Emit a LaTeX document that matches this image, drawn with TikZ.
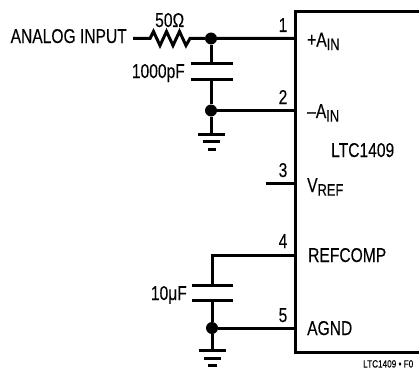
\documentclass[tikz,border=0pt]{standalone}
\usepackage{fontspec}
\setmainfont[FakeStretch=0.78,FakeBold=0.15]{Liberation Sans}
\tikzset{
  x=1pt,y=-1pt,
  wire/.style={line width=3pt,line cap=butt,line join=miter,black},
  lbl/.style={font=\fontsize{20}{22}\selectfont,inner sep=0pt,text=black},
  pin/.style={font=\fontsize{20}{22}\selectfont,inner sep=0pt,text=black},
  dotn/.style={circle,fill=black,inner sep=0pt,minimum size=12pt},
}
\newcommand{\sbs}[1]{\raisebox{-3.6pt}{\fontsize{16.5}{18}\selectfont #1}}
\begin{document}
\begin{tikzpicture}
\useasboundingbox (0,0) rectangle (419,369);
% IC body
\coordinate (tl) at (295.5,12);
\coordinate (bl) at (295.5,352);
\coordinate (tr) at (420,12);
\coordinate (br) at (420,352);
\draw[wire] (tr) -- (tl) -- (bl) -- (br);
% pin coordinates
\coordinate (p1) at (295.5,38.5);
\coordinate (p2) at (295.5,110.5);
\coordinate (p3) at (295.5,183);
\coordinate (p3e) at (266,183);
\coordinate (p4) at (295.5,255.5);
\coordinate (p4c) at (212,255.5);
\coordinate (p5) at (295.5,328);
\coordinate (rs) at (133,38.5);
\coordinate (r1) at (150,38.5);
\coordinate (r2) at (190,38.5);
\node[dotn] (j1) at (211,38.5) {};
\node[dotn] (j2) at (211,110.5) {};
\node[dotn] (j5) at (212,328) {};
% top
\draw[wire] (rs) -- (r1) -- ++(3.5,-7) -- ++(6.5,14) -- ++(6.5,-14) -- ++(6.5,14) -- ++(6.5,-14) -- ++(6.5,14) -- (r2) -- (j1) -- (p1);
\draw[wire] (j1) -- (211,63);
\draw[wire] (191,63) -- (233,63);
\draw[wire] (191,79) -- (233,79);
\draw[wire] (211,79) -- (j2);
\draw[wire] (j2) -- (p2);
\draw[wire] (j2) -- (211,134);
\draw[wire] (198,134) -- (225,134);
\draw[wire] (203,141.5) -- (220,141.5);
\draw[wire] (207.5,149) -- (215.5,149);
% pin 3
\draw[wire] (p3e) -- (p3);
% bottom
\draw[wire] (p4) -- (p4c) -- (212,285);
\draw[wire] (192,285) -- (233,285);
\draw[wire] (192,300) -- (233,300);
\draw[wire] (212,300) -- (j5);
\draw[wire] (j5) -- (p5);
\draw[wire] (j5) -- (212,350);
\draw[wire] (199,350) -- (226,350);
\draw[wire] (204,358) -- (221,358);
\draw[wire] (208,365.5) -- (217,365.5);
% labels
\node[lbl,anchor=base east] (tin) at (127,43) {ANALOG INPUT};
\node[lbl,anchor=base west] (tr1) at (155,27) {50Ω};
\node[lbl,anchor=base east] (tc1) at (185,78) {1000pF};
\node[lbl,anchor=base east] (tc2) at (187,300) {10μF};
\node[pin,anchor=base] (n1) at (283,32) {1};
\node[pin,anchor=base] (n2) at (283,104) {2};
\node[pin,anchor=base] (n3) at (283,177) {3};
\node[pin,anchor=base] (n4) at (283,248) {4};
\node[pin,anchor=base] (n5) at (283,322) {5};
\node[lbl,anchor=base west] (a1) at (307,46.5) {+A\sbs{IN}};
\node[lbl,anchor=base west] (a2) at (307,118) {–A\sbs{IN}};
\node[lbl,anchor=base west] (chip) at (331,157) {LTC1409};
\node[lbl,anchor=base west] (a3) at (307,192) {V\sbs{REF}};
\node[lbl,anchor=base west] (a4) at (308,262) {REFCOMP};
\node[lbl,anchor=base west] (a5) at (307,335) {AGND};
\node[anchor=base west,inner sep=0pt,font=\fontsize{10.5}{12}\selectfont] (fig) at (363,367.5) {LTC1409 • F0};
\end{tikzpicture}
\end{document}
